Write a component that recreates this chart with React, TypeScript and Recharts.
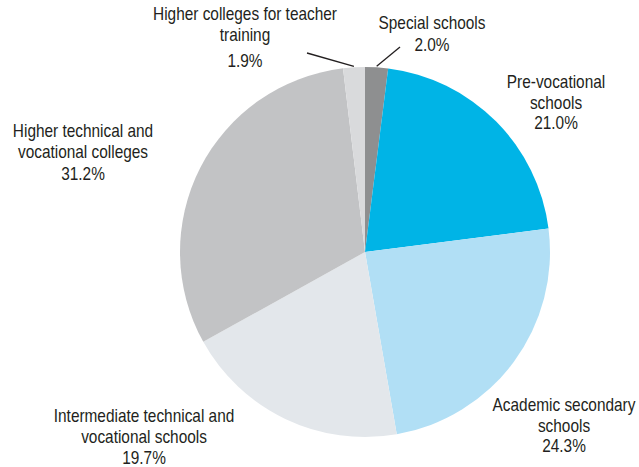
import React from "react";
import { PieChart, Pie, Cell } from "recharts";

const categories = [
  "Special schools",
  "Pre-vocational schools",
  "Academic secondary schools",
  "Intermediate technical and vocational schools",
  "Higher technical and vocational colleges",
  "Higher colleges for teacher training",
];
const shares = [2.0, 21.0, 24.3, 19.7, 31.2, 1.9];
const labelLines = [
  ["Special schools"],
  ["Pre-vocational", "schools"],
  ["Academic secondary", "schools"],
  ["Intermediate technical and", "vocational schools"],
  ["Higher technical and", "vocational colleges"],
  ["Higher colleges for teacher", "training"],
];
const colors = ["#8e8f90", "#00b4e6", "#b1dff5", "#e3e7eb", "#c2c3c5", "#d9dadc"];

// label layout relative to pie centre: x offset, first baseline, gap before percentage
const layout = [
  { dx: 67, y0: -223, gapPct: 22, leader: [35, -205] },
  { dx: 191, y0: -164, gapPct: 20, leader: null },
  { dx: 199, y0: 159, gapPct: 20, leader: null },
  { dx: -221, y0: 170, gapPct: 21, leader: null },
  { dx: -282, y0: -115, gapPct: 22, leader: null },
  { dx: -120, y0: -232, gapPct: 26, leader: [-58, -199] },
];

const data = categories.map((name, i) => ({ name, value: shares[i] }));

const FONT = "'Liberation Sans', Arial, sans-serif";
const RAD = Math.PI / 180;
const FS = 17.5;
const SX = 0.88;

const Txt = ({ x, y, children }: { x: number; y: number; children: React.ReactNode }) => (
  <text
    transform={`translate(${x},${y}) scale(${SX},1)`}
    x={0}
    y={0}
    textAnchor="middle"
    fill="#231f20"
    fontSize={FS}
    fontFamily={FONT}
  >
    {children}
  </text>
);

const renderLabel = (props: any) => {
  const { cx, cy, midAngle, outerRadius, index } = props;
  const l = layout[index];
  const lines = labelLines[index];
  const x = cx + l.dx;
  const step = 21;
  const items: React.ReactNode[] = lines.map((t, k) => (
    <Txt key={k} x={x} y={cy + l.y0 + k * step}>
      {t}
    </Txt>
  ));
  items.push(
    <Txt key="p" x={x} y={cy + l.y0 + (lines.length - 1) * step + l.gapPct}>
      {shares[index].toFixed(1) + "%"}
    </Txt>
  );
  if (l.leader) {
    const sx = cx + (outerRadius + 1) * Math.cos(-midAngle * RAD);
    const sy = cy + (outerRadius + 1) * Math.sin(-midAngle * RAD);
    items.push(<line key="l" x1={sx} y1={sy} x2={cx + l.leader[0]} y2={cy + l.leader[1]} stroke="#231f20" strokeWidth={1.3} />);
  }
  return <g>{items}</g>;
};

export default function App() {
  return (
    <div style={{ position: "absolute", left: 0, top: 0, width: 639, height: 467, background: "#fff" }}>
      <PieChart width={639} height={467} margin={{ top: 0, right: 0, bottom: 0, left: 0 }}>
        <Pie
          data={data}
          dataKey="value"
          nameKey="name"
          cx={365}
          cy={252}
          outerRadius={185}
          startAngle={90}
          endAngle={-270}
          stroke="none"
          labelLine={false}
          label={renderLabel}
          isAnimationActive={false}
        >
          {data.map((d, i) => (
            <Cell key={d.name} fill={colors[i]} />
          ))}
        </Pie>
      </PieChart>
    </div>
  );
}
